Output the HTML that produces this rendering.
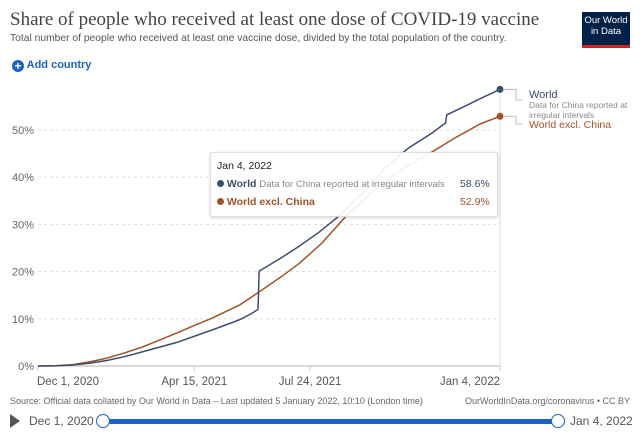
<!DOCTYPE html>
<html><head><meta charset="utf-8"><style>
body{margin:0;width:640px;height:437px;background:#fff;font-family:"Liberation Sans",sans-serif;overflow:hidden;position:relative}
.t{position:absolute;white-space:nowrap}
</style></head><body>
<div class="t" style="left:10px;top:9px;font-family:'Liberation Serif',serif;font-size:19px;color:#444">Share of people who received at least one dose of COVID-19 vaccine</div>
<div class="t" style="left:10px;top:33px;font-size:10.3px;color:#555">Total number of people who received at least one vaccine dose, divided by the total population of the country.</div>
<div style="position:absolute;left:582px;top:12px;width:48px;height:36px;background:#002147;border-bottom:3px solid #ce261e;color:#fff;font-size:9.5px;text-align:center;line-height:11px;padding-top:3px;box-sizing:border-box">Our World<br>in Data</div>
<div class="t" style="left:12px;top:59px;font-size:11px;font-weight:bold;color:#1a62c4"><span style="display:inline-block;width:12px;height:12px;border-radius:6px;background:#1a62c4;color:#fff;text-align:center;line-height:12px;font-size:12px;vertical-align:-2px">+</span> Add country</div>
<svg id="chart" width="640" height="437" style="position:absolute;left:0;top:0"></svg>
<div class="t" style="left:10px;top:396px;font-size:9px;color:#666">Source: Official data collated by Our World in Data – Last updated 5 January 2022, 10:10 (London time)</div>
<div class="t" style="left:465px;top:396px;font-size:9px;color:#666">OurWorldInData.org/coronavirus • CC BY</div>
<div class="t" style="left:10px;top:414px;width:0;height:0;border-left:10px solid #555;border-top:7px solid transparent;border-bottom:7px solid transparent"></div>
<div class="t" style="left:29px;top:414px;font-size:12px;color:#555">Dec 1, 2020</div>
<div style="position:absolute;left:104px;top:419px;width:454px;height:5px;background:#1a62c4"></div>
<div style="position:absolute;left:96px;top:414px;width:12px;height:12px;border:1.5px solid #1a62c4;border-radius:50%;background:#fff"></div>
<div style="position:absolute;left:551px;top:414px;width:12px;height:12px;border:1.5px solid #1a62c4;border-radius:50%;background:#fff"></div>
<div class="t" style="left:570px;top:414px;font-size:12px;color:#555">Jan 4, 2022</div>
<div style="position:absolute;left:210px;top:152px;width:286px;height:63px;background:rgba(255,255,255,0.92);border:1px solid #ddd;border-radius:2px;box-shadow:0 1px 3px rgba(0,0,0,.15);font-size:10.5px">
<div class="t" style="left:6px;top:7px;color:#222">Jan 4, 2022</div>
<div class="t" style="left:6px;top:25px"><span style="display:inline-block;width:7px;height:7px;border-radius:50%;background:#3c4e6e"></span> <b style="color:#3c4e6e">World</b> <span style="color:#888;font-size:9.5px">Data for China reported at irregular intervals</span></div>
<div class="t" style="left:249px;top:25px;color:#3c4e6e">58.6%</div>
<div class="t" style="left:6px;top:43px"><span style="display:inline-block;width:7px;height:7px;border-radius:50%;background:#a2522a"></span> <b style="color:#a2522a">World excl. China</b></div>
<div class="t" style="left:249px;top:43px;color:#a2522a">52.9%</div>
</div>
<script>
const xTickDays=[0,135,235,399];
const xTickLabels=["Dec 1, 2020","Apr 15, 2021","Jul 24, 2021","Jan 4, 2022"];
const yTicks=[0,10,20,30,40,50];
const worldDays=[0,15,30,45,60,75,90,105,120,135,150,160,175,185,190,191,210,225,243,260,280,300,320,340,352,353,370,385,399];
const worldVals=[0,0.05,0.2,0.6,1.2,2,3,4,5,6.3,7.6,8.5,9.9,11.2,12,20.1,22.9,25.3,28.4,31.8,36.5,42,46.2,49.3,51.5,53.2,55.2,57,58.6];
const exclDays=[0,15,30,45,60,75,90,105,120,135,150,174,191,210,226,245,267,290,315,340,360,382,399];
const exclVals=[0,0.05,0.3,0.9,1.7,2.8,4,5.5,7,8.6,10.1,12.9,15.7,18.9,21.8,26,32,37.2,41.8,45.3,48.3,51.3,52.9];
const x=d=>38+d/399*462, y=v=>366-v*4.72;
const svg=document.getElementById('chart');const NS='http://www.w3.org/2000/svg';
function mk(t,a){const e=document.createElementNS(NS,t);for(const k in a)e.setAttribute(k,a[k]);svg.appendChild(e);return e;}
yTicks.forEach(v=>{
 if(v>0){const g=mk('line',{x1:38,x2:500,y1:y(v),y2:y(v),stroke:'#ddd','stroke-dasharray':'3,3'});
 
 }
 const t=mk('text',{x:34,y:y(v)+4,'text-anchor':'end','font-size':'11','fill':'#666'});t.textContent=v+'%';
 
 
});
const ax=mk('line',{x1:38,x2:500,y1:366,y2:366,stroke:'#ccc','stroke-width':1.5});


const vl=mk('line',{x1:500,x2:500,y1:85,y2:366,stroke:'#ddd'});


xTickDays.forEach((d,i)=>{
 const tk=mk('line',{x1:x(d),x2:x(d),y1:366,y2:371,stroke:'#ccc'});
 
 
 const t=mk('text',{x:x(d),y:385,'text-anchor':i==0?'start':(i==3?'end':'middle'),'font-size':'11.5','fill':'#555'});
 if(i==0)t.setAttribute('x',x(d)-1);
 t.textContent=xTickLabels[i];
 
 
});
function series(days,vals,col,name){
 const p=mk('polyline',{points:days.map((d,i)=>x(d)+','+y(vals[i])).join(' '),fill:'none',stroke:col,'stroke-width':1.5});
 
 
 const c=mk('circle',{cx:x(days[days.length-1]),cy:y(vals[vals.length-1]),r:3.5,fill:col});
 
 
}
series(exclDays,exclVals,'#a2522a','world-excl-china');
series(worldDays,worldVals,'#3c4e6e','world');
const wy=y(worldVals[worldVals.length-1]), ey=y(exclVals[exclVals.length-1]);
const c1=mk('polyline',{points:`504,${wy} 516,${wy} 516,100 522,100`,fill:'none',stroke:'#bbb'});


const c2=mk('polyline',{points:`504,${ey} 516,${ey} 516,124 522,124`,fill:'none',stroke:'#bbb'});


[[529,98,'World','#3c4e6e',11],[529,108,'Data for China reported at','#888',8.5],[529,118,'irregular intervals','#888',8.5],[529,128,'World excl. China','#a2522a',10.5]].forEach(a=>{
 const t=mk('text',{x:a[0],y:a[1],'font-size':a[4],fill:a[3]});t.textContent=a[2];
 
 
});
</script>
</body></html>
